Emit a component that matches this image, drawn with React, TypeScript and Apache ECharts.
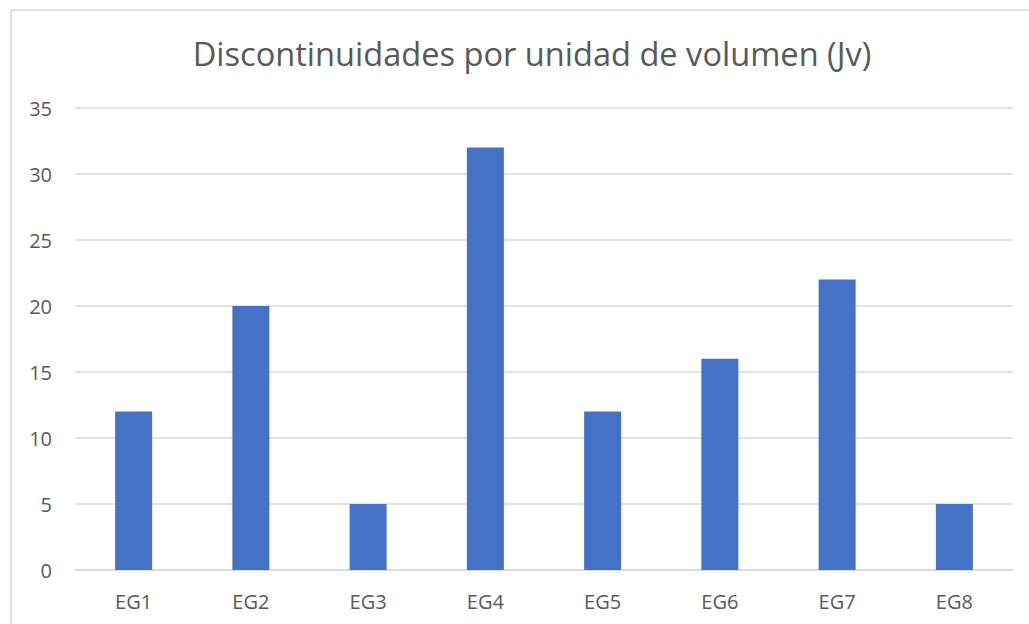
import React, { useEffect, useRef } from "react";
import * as echarts from "echarts";

const categories = ["EG1", "EG2", "EG3", "EG4", "EG5", "EG6", "EG7", "EG8"];
const values = [12, 20, 5, 32, 12, 16, 22, 5];
const title = "Discontinuidades por unidad de volumen (Jv)";

export default function App() {
  const ref = useRef<HTMLDivElement>(null);
  useEffect(() => {
    if (!ref.current) return;
    const chart = echarts.init(ref.current, undefined, { renderer: "svg" });
    chart.setOption({
      animation: false,
      backgroundColor: "#ffffff",
      textStyle: { fontFamily: "Open Sans" },
      title: {
        text: title,
        left: 527,
        top: 32,
        textAlign: "center",
        textStyle: { fontFamily: "Open Sans", fontSize: 32.6, fontWeight: "normal", color: "#595959" },
      },
      graphic: [
        {
          type: "rect",
          shape: { x: 11, y: 10, width: 1040, height: 640 },
          style: { fill: "none", stroke: "#d9d9d9", lineWidth: 1.5 },
          silent: true,
        },
      ],
      grid: { left: 75, right: 16, top: 108, bottom: 54 },
      xAxis: {
        type: "category",
        data: categories,
        axisLine: { lineStyle: { color: "#d9d9d9", width: 1.5 } },
        axisTick: { show: false },
        axisLabel: { color: "#595959", fontSize: 20, margin: 21, fontFamily: "Open Sans" },
      },
      yAxis: {
        type: "value",
        min: 0,
        max: 35,
        interval: 5,
        axisLine: { show: false },
        axisTick: { show: false },
        splitLine: { lineStyle: { color: "#d9d9d9", width: 1.5 } },
        axisLabel: { color: "#595959", fontSize: 20, margin: 23, fontFamily: "Open Sans" },
      },
      series: [
        {
          type: "bar",
          data: values,
          barWidth: 37,
          itemStyle: { color: "#4472c4" },
        },
      ],
    });
    return () => chart.dispose();
  }, []);
  return (
    <div
      ref={ref}
      style={{ position: "fixed", left: 0, top: 0, width: 1029, height: 624 }}
    />
  );
}
